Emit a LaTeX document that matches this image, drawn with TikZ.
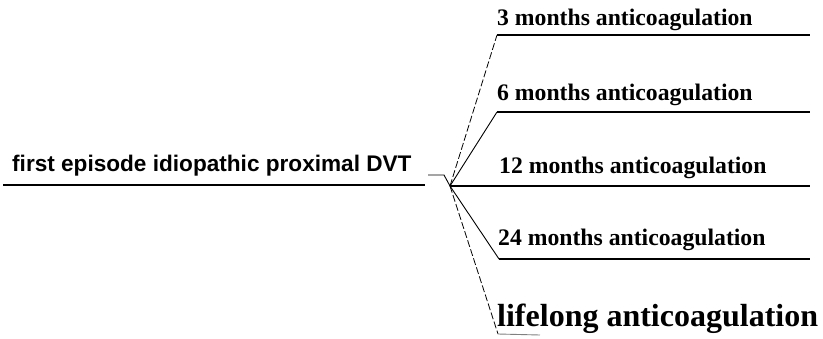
\documentclass[tikz,border=0pt]{standalone}
\usepackage{fontspec}
\setmainfont{Liberation Serif}
\newfontfamily\rootfont{Liberation Sans}
\begin{document}
\begin{tikzpicture}[x=1pt,y=-1pt,
  lbl/.style={inner sep=0pt, anchor=base west, font=\bfseries\fontsize{23.7}{28}\selectfont},
  biglbl/.style={inner sep=0pt, anchor=base west, font=\bfseries\fontsize{32}{36}\selectfont},
  rootlbl/.style={inner sep=0pt, anchor=base west, font=\rootfont\bfseries\fontsize{22.6}{27}\selectfont},
  ln/.style={line width=1.2pt, black},
  thin/.style={line width=0.9pt, black},
  broken/.style={line width=0.8pt, black, dash pattern=on 7pt off 2.5pt}]
\useasboundingbox (0,0) rectangle (823,338);
% root
\node[rootlbl] (root) at (12,171) {first episode idiopathic proximal DVT};
\coordinate (rs) at (3,185);
\coordinate (re) at (425,185);
\coordinate (rj1) at (428,175);
\coordinate (rj2) at (444,175);
\coordinate (b) at (450,186);
\draw[ln] (rs) -- (re);
\draw[thin] (rj1) -- (rj2) -- (b);
% branches
\node[lbl] (t3) at (497,25) {3 months anticoagulation};
\node[lbl] (t6) at (497,100) {6 months anticoagulation};
\node[lbl] (t12) at (499,173) {12 months anticoagulation};
\node[lbl] (t24) at (498,245) {24 months anticoagulation};
\node[biglbl] (tl) at (497,326) {lifelong anticoagulation};
\coordinate (u3s) at (497,35);  \coordinate (u3e) at (810,35);
\coordinate (u6s) at (497,112); \coordinate (u6e) at (810,112);
\coordinate (u12e) at (810,186);
\coordinate (u24s) at (499,259); \coordinate (u24e) at (810,259);
\coordinate (uls) at (498,334); \coordinate (ule) at (540,335);
\draw[broken] (b) -- (u3s);
\draw[ln] (u3s) -- (u3e);
\draw[thin] (b) -- (u6s);
\draw[ln] (u6s) -- (u6e);
\draw[ln] (b) -- (u12e);
\draw[thin] (b) -- (u24s);
\draw[ln] (u24s) -- (u24e);
\draw[broken] (b) -- (uls);
\draw[thin, gray] (uls) -- (ule);
\end{tikzpicture}
\end{document}
